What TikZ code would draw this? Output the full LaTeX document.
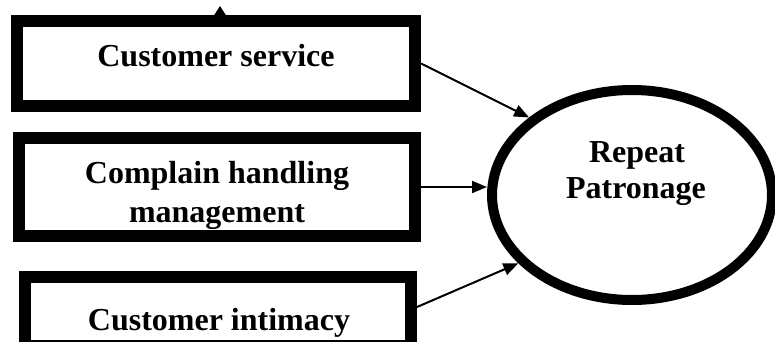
\documentclass[tikz,border=0pt]{standalone}
\usepackage{fontspec}
\setmainfont{Liberation Serif}
\usetikzlibrary{arrows.meta,shapes.geometric}
\begin{document}
\begin{tikzpicture}[x=1pt,y=-1pt,
  boxst/.style={draw, line width=12pt, inner sep=0pt},
  ellst/.style={draw, ellipse, line width=10pt, inner sep=0pt},
  lbl/.style={font=\fontsize{32}{38}\selectfont\bfseries, anchor=base, inner sep=0pt},
  arr/.style={line width=2pt, -{Triangle[length=15pt,width=12pt]}},
  toparr/.style={line width=2pt, -{Triangle[length=9pt,width=11pt]}}]
\useasboundingbox (0,0) rectangle (775,342);
\fill[white] (0,0) rectangle (775,342);
% labels
\node[lbl] (t1) at (216,67) {Customer service};
\node[lbl] (t2a) at (217,183) {Complain handling};
\node[lbl] (t2b) at (217,222) {management};
\node[lbl] (t3) at (219,330) {Customer intimacy};
\node[lbl] (t4a) at (637,162) {Repeat};
\node[lbl] (t4b) at (636,198) {Patronage};
% boxes
\node[boxst, minimum width=398pt, minimum height=85pt] (b1) at (216,63.5) {};
\node[boxst, minimum width=396pt, minimum height=98pt] (b2) at (217,187) {};
\node[boxst, minimum width=386pt, minimum height=69pt] (b3) at (218,311.5) {};
% ellipse
\node[ellst, minimum width=280pt, minimum height=210pt] (ell) at (632,195) {};
% connectors
\coordinate (tp) at (220,6);
\draw[toparr] (tp |- b1.north) -- (tp);
\draw[arr] (b1.east) -- (ell.143);
\draw[arr] (b2.east) -- (b2.east -| ell.west);
\draw[arr] (b3.east |- 0,307) -- (ell.211);
\end{tikzpicture}
\end{document}
